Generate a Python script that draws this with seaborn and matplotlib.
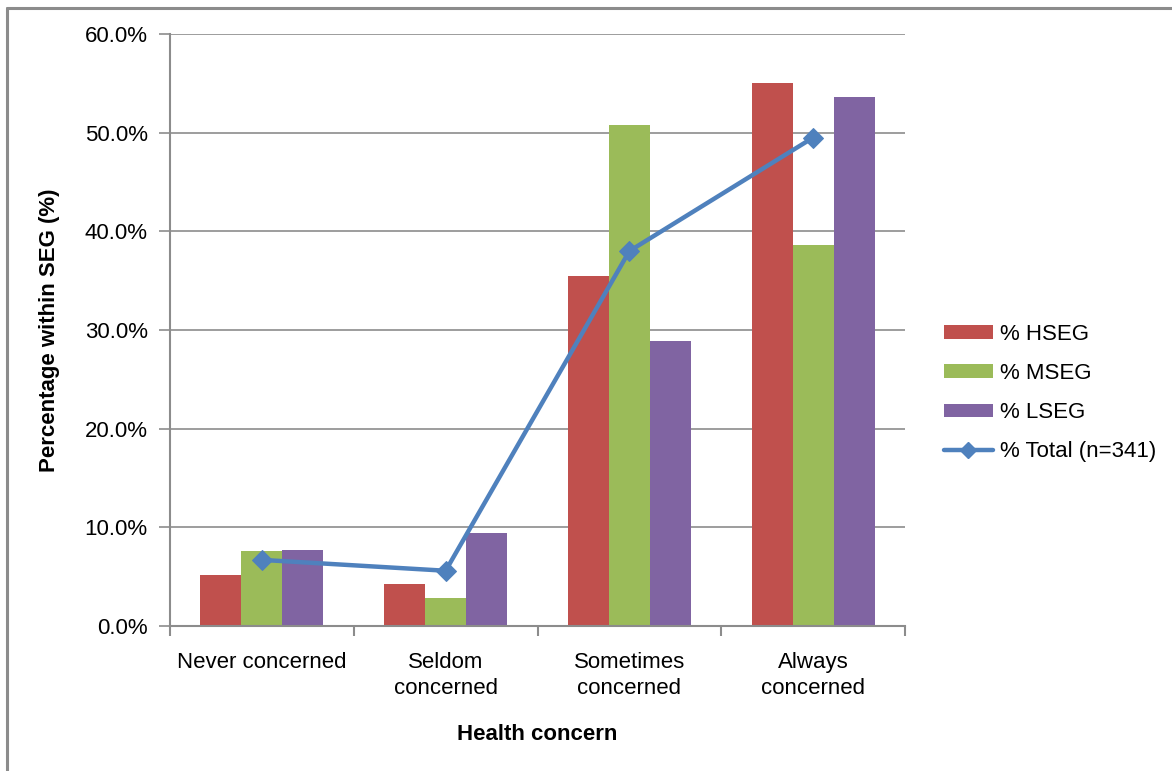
import matplotlib
matplotlib.use("Agg")
import matplotlib.pyplot as plt
from matplotlib.patches import Patch
from matplotlib.lines import Line2D
from matplotlib.ticker import FuncFormatter, MultipleLocator
import numpy as np
import pandas as pd
import seaborn as sns

# Health-concern categories and the share of each socio-economic group
categories = ["Never concerned", "Seldom\nconcerned", "Sometimes\nconcerned", "Always\nconcerned"]
hseg = [5.2, 4.3, 35.5, 55.0]
mseg = [7.6, 2.8, 50.8, 38.6]
lseg = [7.7, 9.4, 28.9, 53.6]
total = [6.7, 5.6, 38.0, 49.5]
series_names = ["% HSEG", "% MSEG", "% LSEG"]
total_name = "% Total (n=341)"

colors = ["#C0504D", "#9BBB59", "#8064A2"]
line_color = "#4F81BD"
grey = "#8C8C8C"
fs = 16

sns.set_theme(style="white")
plt.rcParams["font.family"] = ["Liberation Sans", "DejaVu Sans"]
plt.rcParams["text.color"] = "black"
plt.rcParams["axes.labelcolor"] = "black"
plt.rcParams["xtick.labelcolor"] = "black"
plt.rcParams["ytick.labelcolor"] = "black"

rows = []
for name, vals in zip(series_names, [hseg, mseg, lseg]):
    for cat, v in zip(categories, vals):
        rows.append({"concern": cat, "group": name, "pct": v / 100})
df = pd.DataFrame(rows)

fig = plt.figure(figsize=(11.72, 7.71), dpi=100)
ax = fig.add_axes([170 / 1172, 1 - 626 / 771, 735 / 1172, 592 / 771])

sns.barplot(data=df, x="concern", y="pct", hue="group", order=categories,
            hue_order=series_names, palette=colors, width=0.67, saturation=1,
            legend=False, ax=ax, zorder=2)
for p in ax.patches:
    p.set_edgecolor("none")

tot_df = pd.DataFrame({"pos": np.arange(len(categories)), "pct": np.array(total) / 100})
sns.lineplot(data=tot_df, x="pos", y="pct", color=line_color, linewidth=3.2,
             marker="D", markersize=10, markeredgecolor=line_color, ax=ax, zorder=3)

ax.set_xlim(-0.5, len(categories) - 0.5)
ax.set_ylim(0, 0.6)
ax.yaxis.set_major_locator(MultipleLocator(0.1))
ax.yaxis.set_major_formatter(FuncFormatter(lambda v, _: f"{v * 100:.1f}%"))
ax.grid(axis="y", color=grey, linewidth=1.2, zorder=0)
ax.set_axisbelow(True)

for side in ["top", "right"]:
    ax.spines[side].set_visible(False)
for side in ["left", "bottom"]:
    ax.spines[side].set_color(grey)
    ax.spines[side].set_linewidth(1.5)

ax.set_xticks(np.arange(len(categories)))
ax.set_xticklabels(categories, fontsize=fs, linespacing=1.3)
ax.tick_params(axis="x", length=0, pad=19)
ax.tick_params(axis="y", labelsize=fs, length=8, width=1.2, color=grey, left=True, pad=8)
# category boundary ticks below the x axis
ax.set_xticks(np.arange(len(categories) + 1) - 0.5, minor=True)
ax.tick_params(axis="x", which="minor", length=7, width=1.5, color=grey, bottom=True)

ax.set_xlabel("Health concern", fontsize=fs, fontweight="bold", labelpad=18)
ax.set_ylabel("Percentage within SEG (%)", fontsize=fs, fontweight="bold", labelpad=18)

handles = [Patch(facecolor=c, edgecolor="none") for c in colors]
handles.append(Line2D([], [], color=line_color, linewidth=3.2, marker="D", markersize=8))
fig.legend(handles, series_names + [total_name], loc="center left",
           bbox_to_anchor=(924 / 1172, 1 - 393 / 771), frameon=False, fontsize=fs,
           handlelength=2.2, handleheight=0.55, handletextpad=0.3, labelspacing=0.82)

# chart-area frame: top and left edges
fig.add_artist(Line2D([7 / 1172, 1.0], [1 - 8 / 771, 1 - 8 / 771], transform=fig.transFigure,
                      color=grey, linewidth=2.2))
fig.add_artist(Line2D([7 / 1172, 7 / 1172], [0.0, 1 - 8 / 771], transform=fig.transFigure,
                      color=grey, linewidth=2.2))

fig.savefig("out.png", dpi=100)
